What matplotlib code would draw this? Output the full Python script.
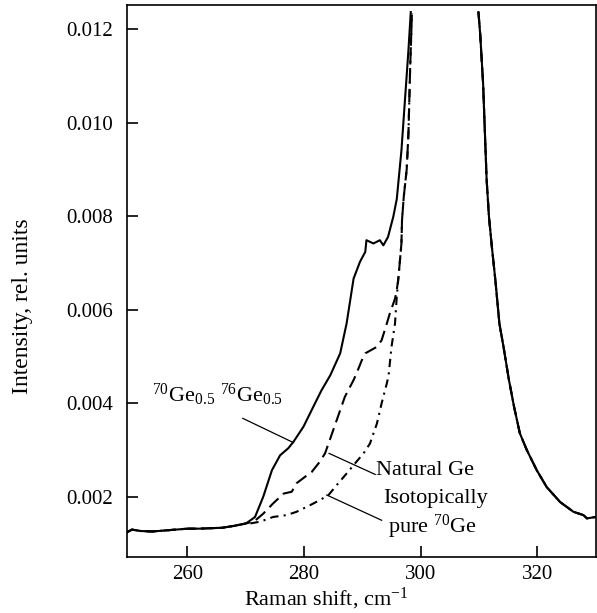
import matplotlib
matplotlib.use("Agg")
import matplotlib.pyplot as plt
import numpy as np

plt.rcParams['font.family'] = ['Liberation Serif', 'DejaVu Serif']
plt.rcParams['mathtext.fontset'] = 'custom'
plt.rcParams['mathtext.rm'] = 'Liberation Serif'
plt.rcParams['mathtext.it'] = 'Liberation Serif:italic'

# common flat background (all three spectra)
base_x = [249.6, 250.5, 252, 254, 256, 258, 260, 262, 264, 266, 268, 270]
base_y = [0.00124, 0.00130, 0.00127, 0.00126, 0.00128, 0.00130, 0.00132,
          0.00132, 0.00133, 0.00134, 0.00138, 0.00143]

# common high-frequency wing of the main peak
wing_x = [309.9, 310.2, 310.7, 311.3, 311.7, 312.2, 312.8, 313.5, 314.2, 315.1,
          316.0, 317.0, 318.2, 319.9, 321.6, 323.9, 326.2, 327.9, 328.5, 330.0]
wing_y = [0.01237, 0.0119, 0.01084, 0.00880, 0.00800, 0.00735, 0.00664,
          0.00570, 0.00521, 0.00452, 0.00393, 0.00336, 0.00300, 0.00257,
          0.00221, 0.00189, 0.00168, 0.00161, 0.00154, 0.00157]

# 70Ge0.5 76Ge0.5 (solid)
mix_x = [270.5, 271.6, 273.0, 274.5, 275.9, 277.3, 278.2, 279.9, 281.6, 283.0,
         284.5, 286.2, 287.3, 288.5, 289.6, 290.5, 290.7, 291.9, 293.0, 293.6,
         294.4, 295.3, 295.9, 296.7, 297.3, 297.9, 298.3]
mix_y = [0.00147, 0.00157, 0.00200, 0.00257, 0.00289, 0.00304, 0.00318,
         0.00350, 0.00393, 0.00428, 0.00460, 0.00507, 0.00571, 0.00667,
         0.00703, 0.00724, 0.00749, 0.00742, 0.00749, 0.00738, 0.00756,
         0.00799, 0.00837, 0.00941, 0.01048, 0.01155, 0.01237]

# natural Ge (dashed)
nat_x = [271.5, 273.0, 274.7, 276.5, 277.9, 278.7, 280.5, 281.3, 282.7, 283.6,
         284.2, 285.6, 287.0, 288.5, 289.0, 289.9, 290.5, 292.5, 293.3, 294.2,
         294.7, 295.6, 295.9, 296.2, 296.5, 296.7, 296.8, 297.1, 297.6, 297.9,
         298.2, 298.5]
nat_y = [0.00148, 0.00164, 0.00186, 0.00207, 0.00211, 0.00229, 0.00246,
         0.00253, 0.00275, 0.00293, 0.00314, 0.00364, 0.00414, 0.00450,
         0.00464, 0.00492, 0.00507, 0.00521, 0.00535, 0.00571, 0.00592,
         0.00624, 0.00642, 0.00671, 0.00713, 0.00742, 0.00792, 0.00842,
         0.00900, 0.00977, 0.01120, 0.01234]

# isotopically pure 70Ge (dash-dot)
pure_x = [270.7, 272.5, 274.7, 277.0, 278.7, 281.0, 282.7, 284.2, 285.6, 287.3,
          288.7, 290.2, 291.3, 292.5, 293.3, 294.2, 294.5, 295.0, 295.6, 295.9,
          296.2, 296.7, 296.8, 297.1, 297.6, 297.9, 298.2, 298.5]
pure_y = [0.00143, 0.00147, 0.00157, 0.00161, 0.00168, 0.00182, 0.00193,
          0.00204, 0.00225, 0.00250, 0.00271, 0.00293, 0.00314, 0.00357,
          0.00400, 0.00443, 0.00460, 0.00521, 0.00571, 0.00628, 0.00671,
          0.00742, 0.00792, 0.00842, 0.00900, 0.00977, 0.01120, 0.01234]


def full(x, y):
    xs = base_x + x + [np.nan] + wing_x
    ys = base_y + y + [np.nan] + wing_y
    return xs, ys


fig = plt.figure(figsize=(5.97, 6.13), dpi=100)
ax = fig.add_axes([0.2122, 0.0918, 0.7856, 0.9000])

lw = 1.5
ax.plot(*full(pure_x, pure_y), color='black', lw=lw, dashes=[4, 2.5, 1, 2.5])
ax.plot(*full(nat_x, nat_y), color='black', lw=lw, dashes=[6, 3])
ax.plot(*full(mix_x, mix_y), color='black', lw=lw)

# annotation leaders
ax.plot([269.5, 278.2], [0.00368, 0.00316], color='black', lw=0.9)
ax.plot([284.3, 292.2], [0.00293, 0.00248], color='black', lw=0.9)
ax.plot([283.9, 293.3], [0.00204, 0.00150], color='black', lw=0.9)

fs = 16
ax.text(253.9, 0.00403, r'$^{70}$Ge$_{0.5}$ $^{76}$Ge$_{0.5}$', fontsize=fs,
        va='baseline', ha='left')
ax.text(292.3, 0.00246, 'Natural Ge', fontsize=fs, va='baseline', ha='left')
ax.text(293.5, 0.00187, 'Isotopically', fontsize=fs, va='baseline', ha='left')
ax.text(294.45, 0.00123, r'pure $^{70}$Ge', fontsize=fs, va='baseline', ha='left')

ax.set_xlim(249.6, 330)
ax.set_ylim(0.00072, 0.01252)
ax.set_xticks([260, 280, 300, 320])
ax.set_yticks([0.002, 0.004, 0.006, 0.008, 0.010, 0.012])
ax.set_yticklabels(['0.002', '0.004', '0.006', '0.008', '0.010', '0.012'])
ax.tick_params(direction='in', length=8, width=1.2, labelsize=15,
               top=False, right=False)
ax.tick_params(axis='y', pad=10)
ax.tick_params(axis='x', pad=6)
for s in ax.spines.values():
    s.set_linewidth(1.2)

ax.set_xlabel(r'Raman shift, cm$^{-1}$', fontsize=fs)
ax.xaxis.set_label_coords(0.4246, -0.052)
ax.set_ylabel('Intensity, rel. units', fontsize=17)
ax.yaxis.set_label_coords(-0.2, 0.4544)

fig.savefig('out.png', dpi=100)
